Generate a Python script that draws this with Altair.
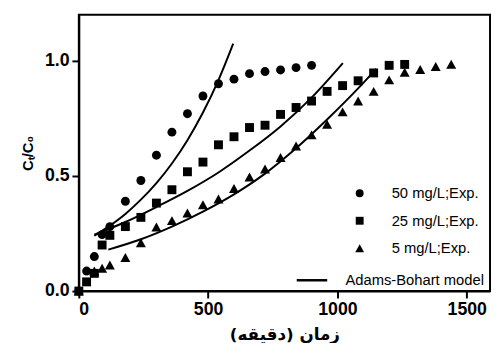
import altair as alt
import pandas as pd

# ---- experimental data (time in min, Ct/C0) ----
series_names = ["50 mg/L;Exp.", "25 mg/L;Exp.", "5 mg/L;Exp."]

t50 = [0, 30, 60, 90, 120, 180, 240, 300, 360, 420, 480, 540, 600, 660, 720, 780, 840, 900]
y50 = [0, 0.087, 0.15, 0.245, 0.28, 0.39, 0.48, 0.59, 0.69, 0.77, 0.847, 0.90, 0.92, 0.944,
       0.953, 0.96, 0.97, 0.98]

t25 = [0, 30, 60, 90, 120, 180, 240, 300, 360, 420, 480, 540, 600, 660, 720, 780, 840, 900,
       960, 1020, 1080, 1140, 1200, 1260]
y25 = [0, 0.04, 0.077, 0.20, 0.242, 0.28, 0.32, 0.382, 0.44, 0.518, 0.56, 0.635, 0.67, 0.71,
       0.72, 0.767, 0.797, 0.825, 0.867, 0.892, 0.913, 0.947, 0.98, 0.984]

t5 = [0, 60, 90, 120, 180, 240, 300, 360, 420, 480, 540, 600, 660, 720, 780, 840, 900, 960,
      1020, 1080, 1140, 1200, 1260, 1320, 1380, 1440]
y5 = [0, 0.087, 0.099, 0.113, 0.146, 0.21, 0.278, 0.306, 0.339, 0.375, 0.40, 0.445, 0.495,
      0.53, 0.58, 0.63, 0.678, 0.724, 0.778, 0.825, 0.867, 0.917, 0.95, 0.962, 0.975, 0.985]

# ---- Adams-Bohart model curves ----
model_name = "Adams-Bohart model"
tl50 = [60, 120, 180, 240, 300, 360, 420, 480, 540, 597]
yl50 = [0.24, 0.284, 0.335, 0.397, 0.469, 0.554, 0.655, 0.775, 0.916, 1.074]

tl25 = [60, 180, 300, 420, 540, 660, 780, 900, 1021]
yl25 = [0.245, 0.30, 0.365, 0.435, 0.515, 0.61, 0.715, 0.84, 0.99]

tl5 = [114, 240, 360, 480, 600, 720, 840, 960, 1080, 1150]
yl5 = [0.18, 0.225, 0.28, 0.345, 0.42, 0.51, 0.62, 0.745, 0.88, 0.965]

x_ticks = [0, 500, 1000, 1500]
y_ticks = [0, 0.5, 1.0]
x_title = "زمان (دقیقه)\u200f"
y_title = "Cₜ/C₀"

pts = pd.concat([
    pd.DataFrame({"t": t50, "y": y50, "series": series_names[0]}),
    pd.DataFrame({"t": t25, "y": y25, "series": series_names[1]}),
    pd.DataFrame({"t": t5, "y": y5, "series": series_names[2]}),
])
lines = pd.concat([
    pd.DataFrame({"t": tl50, "y": yl50, "curve": "c50", "model": model_name}),
    pd.DataFrame({"t": tl25, "y": yl25, "curve": "c25", "model": model_name}),
    pd.DataFrame({"t": tl5, "y": yl5, "curve": "c5", "model": model_name}),
])

FONT = "Liberation Sans"
TRIANGLE = "M0,-1L1.12,1L-1.12,1Z"

xenc = alt.X("t:Q", scale=alt.Scale(domain=[0, 1590], nice=False, zero=False),
             axis=alt.Axis(values=x_ticks, title=x_title, format="d",
                           titleFont="DejaVu Sans", titleFontSize=17, titleFontWeight="bold",
                           titlePadding=8))
yenc = alt.Y("y:Q", scale=alt.Scale(domain=[0, 1.2], nice=False),
             axis=alt.Axis(values=y_ticks, title=y_title, format=".1f",
                           titleFont=FONT, titleFontSize=15, titleFontWeight="bold",
                           titlePadding=9))

points = alt.Chart(pts).mark_point(filled=True, size=82, color="black", opacity=1).encode(
    x=xenc, y=yenc,
    shape=alt.Shape("series:N",
                    scale=alt.Scale(domain=series_names,
                                    range=["circle", "square", TRIANGLE]),
                    legend=alt.Legend(orient="none", legendX=278, legendY=174, title=None,
                                      padding=0, symbolSize=64, symbolFillColor="black",
                                      symbolStrokeWidth=0, labelFont=FONT, labelFontSize=15,
                                      labelOffset=25, rowPadding=12, labelColor="black")),
)

curves = alt.Chart(lines).mark_line(strokeWidth=2, interpolate="monotone").encode(
    x=xenc, y=yenc, detail="curve:N",
    color=alt.Color("model:N", scale=alt.Scale(domain=[model_name], range=["black"]),
                    legend=alt.Legend(orient="none", legendX=220, legendY=253, title=None,
                                      padding=0, symbolType="stroke", symbolSize=961,
                                      symbolStrokeWidth=2.5, symbolStrokeColor="black",
                                      labelFont=FONT, labelFontSize=15, labelOffset=17,
                                      labelColor="black")),
)

chart = alt.layer(curves, points).properties(
    width=418, height=281,
    autosize=alt.AutoSizeParams(type="none"),
    padding={"left": 72, "top": 4, "right": 1, "bottom": 50},
    background="white",
).configure_view(stroke="black", strokeWidth=2).configure_axis(
    grid=False, domainColor="black", domainWidth=2, tickColor="black", tickWidth=2,
    tickSize=7, labelFont=FONT, labelFontSize=18, labelFontWeight="bold",
    labelColor="black", titleColor="black", labelPadding=3,
)

chart.save("out.html", embed_options={"renderer": "svg", "actions": False})
